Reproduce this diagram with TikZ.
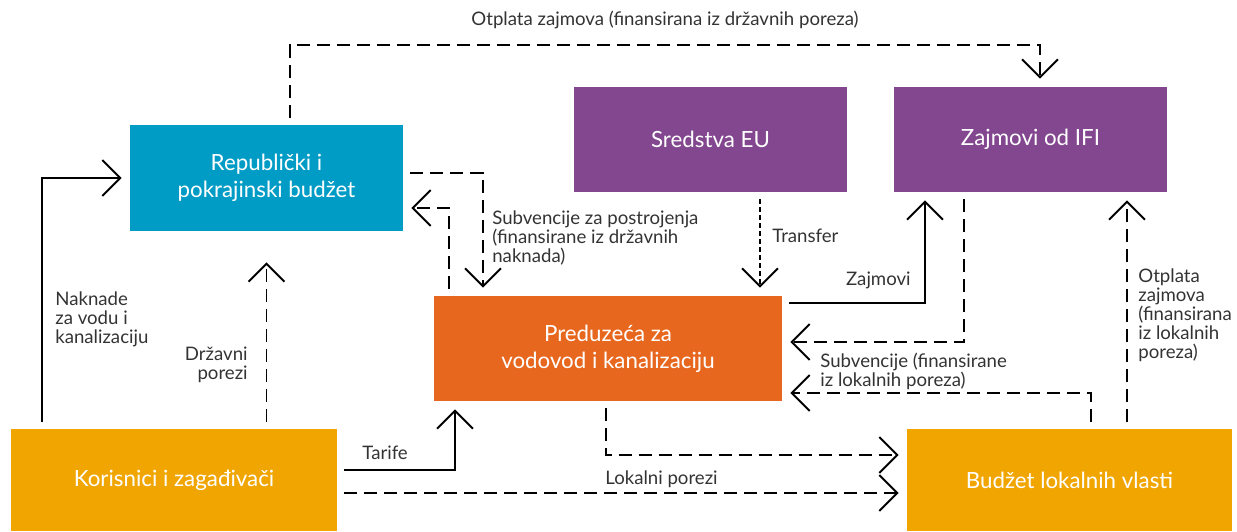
\documentclass[tikz,border=0pt]{standalone}
\usepackage{fontspec}
\setmainfont{Lato}
\usetikzlibrary{arrows.meta}
\definecolor{repblue}{RGB}{0,156,197}
\definecolor{eupurple}{RGB}{130,71,143}
\definecolor{vodorange}{RGB}{232,103,30}
\definecolor{korgold}{RGB}{240,165,0}
\definecolor{lbltext}{RGB}{51,51,51}
\begin{document}
\begin{tikzpicture}[x=0.02cm, y=-0.02cm,
    box/.style={inner sep=0pt, text=white, align=center, font=\fontsize{12.7}{15.3}\selectfont},
    lbl/.style={inner sep=0pt, text=lbltext, font=\fontsize{10.6}{10.8}\selectfont},
    flow/.style={line width=1.1pt, -{Straight Barb[length=0.36cm,width=0.72cm]}, shorten <=0.14cm, shorten >=0.16cm},
    dsh/.style={flow, dash pattern=on 0.26cm off 0.14cm},
    dts/.style={flow, dash pattern=on 0.1cm off 0.06cm}]
      \useasboundingbox (0,0) rectangle (1237,531);
      % boxes
      \node[box, fill=repblue, minimum width=5.46cm, minimum height=2.12cm] (rep) at (266.5,178) {Republički i\\pokrajinski budžet};
      \node[box, fill=eupurple, minimum width=5.46cm, minimum height=2.10cm] (eu) at (710.5,139.5) {Sredstva EU};
      \node[box, fill=eupurple, minimum width=5.46cm, minimum height=2.10cm] (ifi) at (1030.5,139.5) {Zajmovi od IFI};
      \node[box, fill=vodorange, minimum width=6.96cm, minimum height=2.10cm] (pre) at (608,348.5) {Preduzeća za\\vodovod i kanalizaciju};
      \node[box, fill=korgold, minimum width=6.52cm, minimum height=2.04cm] (kor) at (174,480) {Korisnici i zagađivači};
      \node[box, fill=korgold, minimum width=6.50cm, minimum height=2.04cm] (blv) at (1069.5,480) {Budžet lokalnih vlasti};

      % bends
      \coordinate (c1) at (290,45);
      \coordinate (c2) at (1040,45);
      \coordinate (knak) at (42,178);
      \coordinate (rsub) at (483,173);
      \coordinate (prep) at (449,208);
      \coordinate (etr) at (760,0);
      \coordinate (pzaj) at (925,303);
      \coordinate (isub) at (964,342);
      \coordinate (bsub) at (1091,393);
      \coordinate (botp) at (1127,0);
      \coordinate (ktar) at (455,470);
      \coordinate (plok) at (606,455);
      \coordinate (klok) at (0,493);

      % flows
      \draw[dsh] (rep.north -| c1) -- (c1) -- (c2) -- (ifi.north -| c2);
      \draw[flow] (kor.north -| knak) |- (rep.west);
      \draw[dsh, shorten >=0.62cm] (kor.north -| rep.south) -- (rep.south);
      \draw[dsh] (rep.east |- rsub) -| (pre.north -| rsub);
      \draw[dsh] (pre.north -| prep) |- (rep.east |- prep);
      \draw[dts] (eu.south -| etr) -- (pre.north -| etr);
      \draw[flow] (pre.east |- pzaj) -| (ifi.south -| pzaj);
      \draw[dsh] (ifi.south -| isub) |- (pre.east |- isub);
      \draw[dsh] (blv.north -| bsub) |- (pre.east |- bsub);
      \draw[dsh] (blv.north -| botp) -- (ifi.south -| botp);
      \draw[flow] (kor.east |- ktar) -| (pre.south -| ktar);
      \draw[dsh] (pre.south -| plok) |- (blv.west |- plok);
      \draw[dsh] (kor.east |- klok) -- (blv.west |- klok);

      % labels
      \node[lbl] (lotd) at (665,20) {Otplata zajmova (finansirana iz državnih poreza)};
      \node[lbl, anchor=west, align=left] (lnak) at (55,319) {Naknade\\za vodu i\\kanalizaciju};
      \node[lbl, anchor=east, align=right] (ldrz) at (248,365) {Državni\\porezi};
      \node[lbl, anchor=west, align=left] (lsub) at (492,238) {Subvencije za postrojenja\\(finansirane iz državnih\\naknada)};
      \node[lbl, anchor=west] (ltr) at (772,236) {Transfer};
      \node[lbl, anchor=east] (lzaj) at (911,280) {Zajmovi};
      \node[lbl, anchor=west, align=left] (lsl) at (820,371) {Subvencije (finansirane\\iz lokalnih poreza)};
      \node[lbl, anchor=west, align=left] (lotl) at (1138,315) {Otplata\\zajmova\\(finansirana\\iz lokalnih\\poreza)};
      \node[lbl, anchor=west] (ltar) at (362,453) {Tarife};
      \node[lbl, anchor=west] (llok) at (605,479) {Lokalni porezi};
\end{tikzpicture}
\end{document}
